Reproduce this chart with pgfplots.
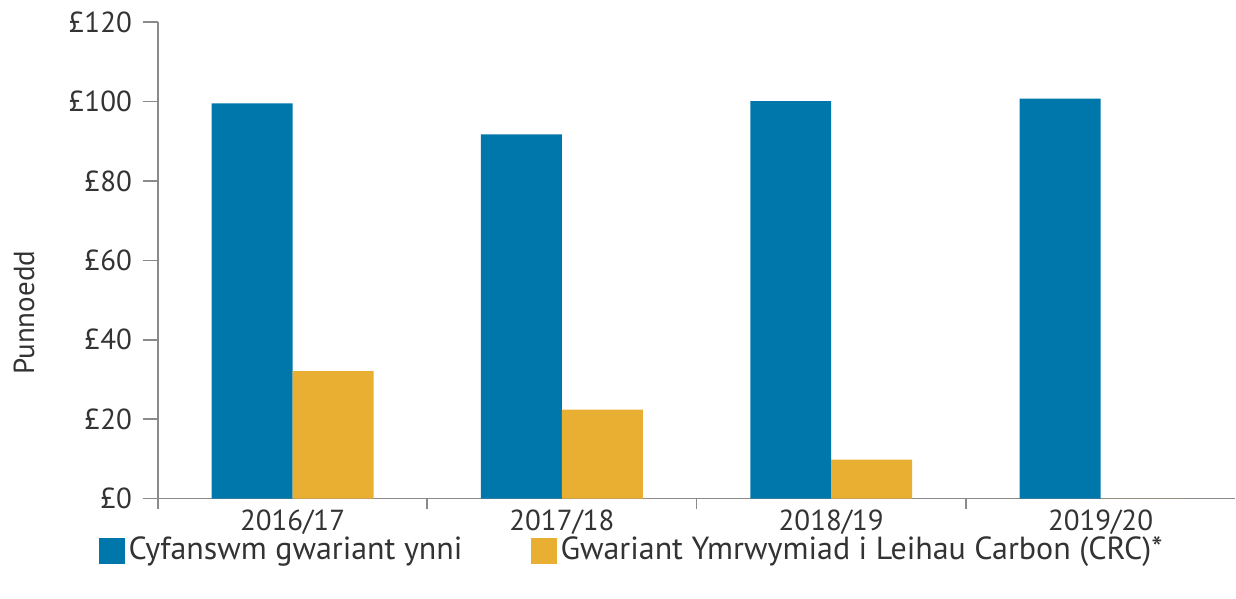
\documentclass[border=0pt]{standalone}
\usepackage{pgfplots}
\pgfplotsset{compat=1.18}
\usepackage{fontspec}
\setmainfont{PT Sans}
\definecolor{barblue}{HTML}{0077AB}
\definecolor{baryellow}{HTML}{E9AF32}
\definecolor{axisgray}{HTML}{8A8A8A}
\definecolor{txt}{HTML}{333333}
\begin{document}
\begin{tikzpicture}
\begin{axis}[
  scale only axis,
  width=539pt, height=238.5pt,
  ybar=0pt, bar width=40.5pt,
  xmin=-0.5, xmax=3.5, ymin=0, ymax=120,
  axis x line*=bottom, axis y line*=left,
  axis line style={axisgray, line width=0.8pt},
  xtick={0,1,2,3},
  xticklabels={2016/17,2017/18,2018/19,2019/20},
  major x tick style={draw=none},
  minor xtick={-0.5,0.5,1.5,2.5},
  minor x tick style={axisgray, line width=0.8pt},
  minor tick length=5pt,
  ytick={0,20,...,120},
  yticklabels={£0,£20,£40,£60,£80,£100,£120},
  y tick style={axisgray, line width=0.8pt},
  major tick length=7.5pt,
  tick align=outside,
  ticklabel style={font=\fontsize{14.5}{17}\selectfont, text=txt},
  xticklabel style={yshift=5.5pt},
  yticklabel style={xshift=-2pt},
  ylabel={Punnoedd},
  ylabel style={font=\fontsize{14.5}{17}\selectfont, text=txt, at={(axis description cs:-0.108,0.39)}},
  legend style={draw=none, fill=none, at={(axis description cs:-0.061,-0.062)}, anchor=north west,
    legend columns=2, font=\fontsize{16}{19}\selectfont, text=txt,
    /tikz/every even column/.append style={column sep=32pt}},
  legend image code/.code={\fill[#1] (0pt,-7pt) rectangle (13pt,6pt);},
]
\addplot[fill=barblue, draw=none] coordinates {(0,99.5) (1,91.7) (2,100.1) (3,100.7)};
\addplot[fill=baryellow, draw=none] coordinates {(0,32.1) (1,22.4) (2,9.8) (3,0)};
\legend{Cyfanswm gwariant ynni, Gwariant Ymrwymiad i Leihau Carbon (CRC)*}
\end{axis}
\path ([yshift=11pt]current axis.north west) ([yshift=-50pt]current axis.south west)
  ([xshift=-79pt]current axis.west);
\end{tikzpicture}
\end{document}
